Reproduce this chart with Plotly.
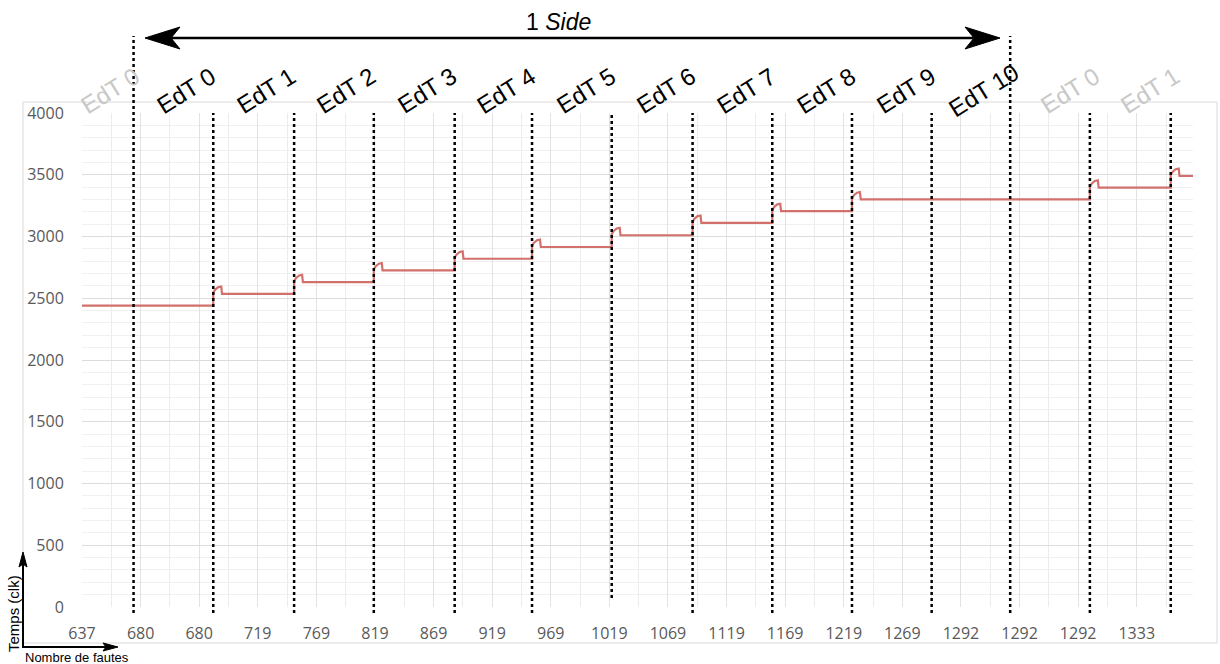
import plotly.graph_objects as go

# x axis = sample index along the run, one tick label every 50 samples
tick_pos = [0, 50, 100, 150, 200, 250, 300, 350, 400, 450, 500, 550, 600, 650, 700, 750, 800, 850, 900]
tick_text = ["637", "680", "680", "719", "769", "819", "869", "919", "969", "1019",
             "1069", "1119", "1169", "1219", "1269", "1292", "1292", "1292", "1333"]
x_end = 948

# state boundaries (dotted lines)
edt_bounds = [44, 112, 181, 249, 318, 384, 452, 521, 589, 657, 725, 792, 860, 929]

# time curve: plateau levels and where each new plateau starts
levels = [2440, 2535, 2630, 2725, 2820, 2915, 3010, 3110, 3205, 3300, 3395, 3490]
step_x = [112, 181, 249, 318, 384, 452, 521, 589, 657, 860, 929]
# small overshoot at the start of each plateau (offset in samples, height above plateau)
bump_dx = [0, 1.7, 4.3, 6.8, 7.5]
bump_rise = [10, 35, 55, 60, 0]

edt_text = ["EdT 0", "EdT 0", "EdT 1", "EdT 2", "EdT 3", "EdT 4", "EdT 5", "EdT 6",
            "EdT 7", "EdT 8", "EdT 9", "EdT 10", "EdT 0", "EdT 1"]
edt_x = [24, 89, 157, 225, 294, 362, 430, 498, 567, 635, 703, 769, 843, 911]
edt_grey = [True, False, False, False, False, False, False, False, False, False, False, False, True, True]

xs = [0]
ys = [levels[0]]
for i, s in enumerate(step_x):
    xs.append(s)
    ys.append(levels[i])
    for dx, r in zip(bump_dx, bump_rise):
        xs.append(s + dx)
        ys.append(levels[i + 1] + r)
xs.append(x_end)
ys.append(levels[-1])

L, R, T, B = 82, 27, 113, 57
W, H = 1220, 664
PW, PH = W - L - R, H - T - B


def px(x):
    return (x - L) / PW


def py(y):
    return (H - B - y) / PH


fig = go.Figure()
fig.add_trace(go.Scatter(x=xs, y=ys, mode="lines", line=dict(color="#d2716c", width=2.2),
                         hoverinfo="skip", showlegend=False))

shapes = []
# chart frame
shapes.append(dict(type="rect", xref="paper", yref="paper", x0=px(23), x1=px(1217), y0=py(643), y1=py(102),
                   line=dict(color="#d9d9d9", width=1), layer="below"))
# dotted state boundaries
for i, b in enumerate(edt_bounds):
    top = 36 if i in (0, 11) else 113
    bot = 598 if i == 6 else 613
    shapes.append(dict(type="line", xref="x", yref="paper", x0=b, x1=b, y0=py(bot), y1=py(top),
                       line=dict(color="black", width=2.5, dash="dot")))

# top double arrow "1 Side"
shapes.append(dict(type="line", xref="paper", yref="paper", x0=px(170), x1=px(973), y0=py(38), y1=py(38),
                   line=dict(color="black", width=2.5)))


def head(pts):
    d = "M " + " L ".join(f"{px(a)} {py(b)}" for a, b in pts) + " Z"
    return dict(type="path", xref="paper", yref="paper", path=d, fillcolor="black", line=dict(color="black", width=1))


shapes.append(head([(145, 38), (180, 27), (171, 38), (180, 49)]))
shapes.append(head([(1000, 38), (965, 27), (974, 38), (965, 49)]))

# little axis arrows bottom-left
shapes.append(dict(type="line", xref="paper", yref="paper", x0=px(23), x1=px(23), y0=py(647), y1=py(563),
                   line=dict(color="black", width=2)))
shapes.append(dict(type="line", xref="paper", yref="paper", x0=px(22), x1=px(108), y0=py(647), y1=py(647),
                   line=dict(color="black", width=2)))
shapes.append(head([(23, 552), (19, 567), (23, 564), (27, 567)]))
shapes.append(head([(118, 647), (103, 643), (106, 647), (103, 651)]))

annotations = []
for t, x, g in zip(edt_text, edt_x, edt_grey):
    annotations.append(dict(x=x, xref="x", y=py(90), yref="paper", text=t, showarrow=False, textangle=-32,
                            xanchor="center", yanchor="middle",
                            font=dict(family="Liberation Sans", size=24, color="#c8c8c8" if g else "black")))
annotations.append(dict(x=px(558), y=py(22), xref="paper", yref="paper", text="1 <i>Side</i>", showarrow=False,
                        xanchor="center", yanchor="middle",
                        font=dict(family="Liberation Sans", size=23, color="black")))
annotations.append(dict(x=px(13), y=py(614), xref="paper", yref="paper", text="Temps (clk)", showarrow=False,
                        textangle=-90, xanchor="center", yanchor="middle",
                        font=dict(family="Liberation Sans", size=15, color="black")))
annotations.append(dict(x=px(77), y=py(657), xref="paper", yref="paper", text="Nombre de fautes", showarrow=False,
                        xanchor="center", yanchor="middle",
                        font=dict(family="Liberation Sans", size=13, color="black")))

tick_font = dict(family="Open Sans", size=16, color="#595959")
fig.update_layout(
    width=W, height=H, margin=dict(l=L, r=R, t=T, b=B),
    plot_bgcolor="white", paper_bgcolor="white",
    shapes=shapes, annotations=annotations, showlegend=False,
    xaxis=dict(range=[0, x_end], tickmode="array", tickvals=tick_pos, ticktext=tick_text,
               tickfont=tick_font, ticks="outside", ticklen=12, tickcolor="rgba(0,0,0,0)",
               showgrid=True, gridcolor="#e2e2e2", zeroline=False, showline=False,
               minor=dict(tickmode="linear", tick0=25, dtick=50, showgrid=True, gridcolor="#ececec")),
    yaxis=dict(range=[0, 4000], dtick=500, tickfont=tick_font, ticks="outside", ticklen=14,
               tickcolor="rgba(0,0,0,0)", showgrid=True, gridcolor="#dcdcdc", zeroline=False, showline=False,
               minor=dict(dtick=100, showgrid=True, gridcolor="#f0f0f0")),
)

# page has a default body margin; drop it so the figure sits at the window corner
fig.write_html("out.html", config={"displayModeBar": False},
               post_script="document.body.style.margin='0';")
